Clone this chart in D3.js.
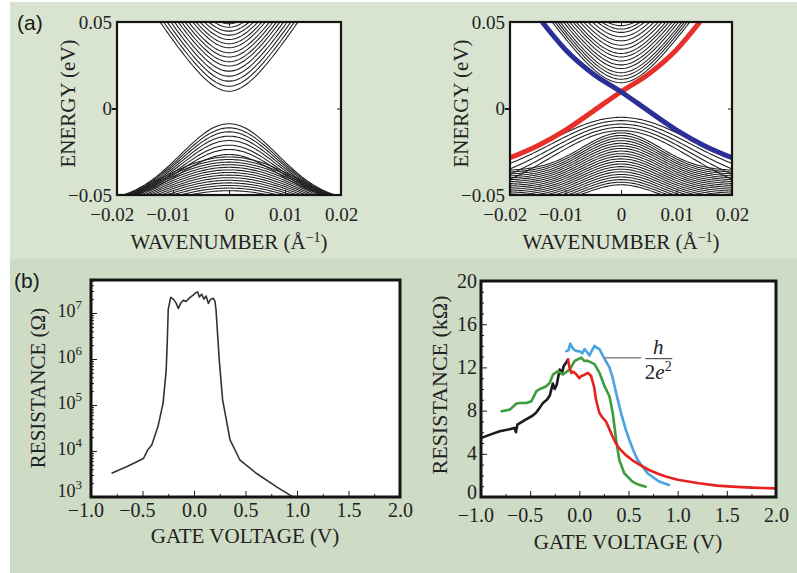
<!DOCTYPE html>
<html>
<head>
<meta charset="utf-8">
<script src="https://cdn.jsdelivr.net/npm/d3@7/dist/d3.min.js"></script>
<style>
  body { margin: 0; background: #fff; }
  svg { display: block; }
  svg text { font-family: "Liberation Serif", "DejaVu Serif", "Noto Serif", serif; }
  svg text.letter { font-family: "Liberation Sans", "DejaVu Sans", sans-serif; }
</style>
</head>
<body>
<div class="viz"></div>
<script>
// ---------- (a) band structures: subband energies at k = 0 (eV)
const trivCond = [0.0100, 0.0129, 0.0158, 0.0187, 0.0216, 0.0245, 0.0270, 0.0297, 0.0322, 0.0351, 0.0374, 0.0399, 0.0424, 0.0447, 0.0470, 0.0490]
const trivVal1 = [-0.0088, -0.0112, -0.0135, -0.0160, -0.0185, -0.0212, -0.0237, -0.0266]
const trivVal2 = [-0.0280, -0.0295, -0.0310, -0.0325, -0.0340, -0.0355, -0.0370, -0.0385, -0.0400, -0.0415, -0.0430, -0.0445, -0.0460, -0.0475, -0.0498]

const topoCond = [0.0149, 0.0169, 0.0188, 0.0207, 0.0231, 0.0252, 0.0275, 0.0298, 0.0318, 0.0343, 0.0366, 0.0391, 0.0415, 0.0440, 0.0459, 0.0479, 0.0498]
const topoVal1 = [-0.0051, -0.0070, -0.0090, -0.0109, -0.0128]
const topoVal2 = [-0.0141, -0.0156, -0.0171, -0.0186, -0.0201, -0.0216, -0.0231, -0.0246, -0.0261, -0.0276, -0.0291, -0.0306, -0.0321, -0.0336, -0.0351, -0.0366, -0.0381, -0.0396, -0.0411, -0.0426, -0.0441]

// edge states (k in 1/Å, E in eV)
const redK = [-0.0200, -0.0150, -0.0100, -0.0050, 0.0000, 0.0050, 0.0100, 0.0142]
const redE = [-0.0285, -0.0215, -0.0125, -0.0015, 0.0097, 0.0200, 0.0340, 0.0500]
const blueK = [-0.0142, -0.0100, -0.0050, 0.0000, 0.0050, 0.0100, 0.0150, 0.0200]
const blueE = [0.0500, 0.0340, 0.0200, 0.0097, -0.0015, -0.0125, -0.0215, -0.0285]

// ---------- (b) left: resistance (Ω) vs gate voltage (V)
const logV = [-0.80, -0.65, -0.49, -0.45, -0.41, -0.35, -0.30, -0.27, -0.26, -0.25, -0.226, -0.201, -0.175, -0.152, -0.129, -0.104, -0.078, -0.055, -0.032, -0.007, 0.016, 0.036, 0.052, 0.074, 0.097, 0.117, 0.139, 0.162, 0.188, 0.204, 0.214, 0.245, 0.278, 0.35, 0.447, 0.608, 0.802, 0.932, 0.964]
const logR = [3300, 4600, 6900, 10500, 13500, 34000, 1.1e5, 5.75e5, 2.2e6, 1.2e7, 2.19e7, 2.0e7, 1.66e7, 1.26e7, 1.62e7, 1.9e7, 1.78e7, 2.0e7, 2.24e7, 2.45e7, 2.75e7, 2.88e7, 2.24e7, 2.57e7, 2.0e7, 2.34e7, 1.62e7, 2.0e7, 2.09e7, 1.78e7, 1.17e7, 9.5e5, 1.29e5, 1.74e4, 6300, 3240, 1660, 1100, 1000]

// ---------- (b) right: resistance (kΩ) vs gate voltage (V)
const blackV = [-1.0, -0.90, -0.81, -0.72, -0.66, -0.645, -0.63, -0.55, -0.48, -0.44, -0.40, -0.37, -0.33, -0.30, -0.27, -0.25, -0.23, -0.20, -0.18, -0.16, -0.13, -0.115]
const blackR = [5.45, 5.8, 6.08, 6.25, 6.4, 6.0, 6.7, 7.15, 7.5, 7.8, 8.3, 8.7, 9.0, 9.4, 10.5, 10.0, 10.4, 11.8, 11.4, 12.1, 12.5, 12.74]
const redV = [-0.115, -0.10, -0.082, -0.06, -0.031, 0.0, 0.019, 0.05, 0.087, 0.12, 0.15, 0.17, 0.203, 0.24, 0.271, 0.30, 0.338, 0.37, 0.406, 0.47, 0.54, 0.62, 0.709, 0.80, 0.878, 1.0, 1.216, 1.4, 1.554, 1.75, 2.0]
const redR = [12.74, 12.0, 11.5, 11.6, 11.35, 11.0, 11.2, 11.3, 11.5, 11.2, 10.2, 9.0, 7.8, 7.3, 7.0, 6.4, 5.6, 5.0, 4.5, 3.9, 3.4, 2.95, 2.5, 2.15, 1.9, 1.6, 1.27, 1.05, 0.96, 0.87, 0.8]
const greenV = [-0.79, -0.706, -0.639, -0.60, -0.537, -0.487, -0.436, -0.40, -0.335, -0.30, -0.267, -0.217, -0.166, -0.098, -0.048, 0.019, 0.05, 0.087, 0.154, 0.205, 0.256, 0.306, 0.34, 0.374, 0.406, 0.457, 0.54, 0.60, 0.675]
const greenR = [7.94, 8.09, 8.65, 8.7, 8.71, 8.87, 9.8, 10.0, 10.26, 10.6, 11.35, 11.66, 11.35, 11.8, 12.59, 12.9, 12.6, 12.6, 12.3, 11.5, 10.26, 9.33, 7.78, 5.3, 3.44, 2.2, 1.43, 1.15, 0.96]
const blueV = [-0.132, -0.11, -0.092, -0.07, -0.048, -0.02, 0.003, 0.03, 0.053, 0.08, 0.103, 0.13, 0.154, 0.18, 0.205, 0.256, 0.306, 0.34, 0.374, 0.424, 0.47, 0.508, 0.55, 0.592, 0.693, 0.81, 0.912]
const blueR = [13.5, 13.6, 14.2, 13.8, 13.6, 13.5, 13.5, 13.3, 13.7, 13.4, 13.1, 13.6, 14.0, 13.8, 13.7, 12.8, 12.0, 11.0, 9.64, 7.78, 6.3, 5.3, 4.3, 3.44, 2.2, 1.43, 1.12]
const quantumR = 12.9            // h/2e² in kΩ
const quantumSpan = [0.24, 0.63]  // gate-voltage extent of the marker line

const svg = d3.select('.viz')
  .append('svg')
    .attr('width', 797)
    .attr('height', 573)

// backgrounds
svg.append('rect').attr('width', 797).attr('height', 573).attr('fill', '#fff')
svg.append('rect').attr('x', 10).attr('y', 2).attr('width', 787).attr('height', 257).attr('fill', '#d9e4d0')
svg.append('rect').attr('x', 10).attr('y', 259).attr('width', 787).attr('height', 314).attr('fill', '#cedbc5')

// panel boxes
const boxTL = { id: 'tl', x0: 117, x1: 341, y0: 22, y1: 195 }
const boxTR = { id: 'tr', x0: 510, x1: 732, y0: 22, y1: 195 }
const boxBL = { id: 'bl', x0: 91, x1: 400, y0: 280, y1: 497 }
const boxBR = { id: 'br', x0: 481, x1: 776, y0: 281, y1: 497 }

function panel(box) {
  svg.append('clipPath').attr('id', 'clip-' + box.id).append('rect')
    .attr('x', box.x0).attr('y', box.y0)
    .attr('width', box.x1 - box.x0).attr('height', box.y1 - box.y0)
  svg.append('rect')
    .attr('x', box.x0).attr('y', box.y0)
    .attr('width', box.x1 - box.x0).attr('height', box.y1 - box.y0)
    .attr('fill', '#fff')
  return svg.append('g').attr('clip-path', `url(#clip-${box.id})`)
}

function frame(box, w) {
  svg.append('rect')
    .attr('x', box.x0).attr('y', box.y0)
    .attr('width', box.x1 - box.x0).attr('height', box.y1 - box.y0)
    .attr('fill', 'none').attr('stroke', '#141414').attr('stroke-width', w)
}

function styleAxis(g, size) {
  g.attr('font-family', null).attr('font-size', size)
  g.select('.domain').remove()
  g.selectAll('line').attr('stroke', '#1a1a1a')
  g.selectAll('text').attr('fill', '#222')
    .attr('dx', d => d < 0 ? '-0.28em' : null)
}

// ---------- (a) band panels
const kSamples = d3.range(-0.021, 0.0211, 0.0004)

const condBand = (e0, d0, v) => k => e0 - d0 + Math.sqrt(d0 * d0 + v * v * k * k)
const valBand = (e0, edge, w) => k => edge + (e0 - edge) * Math.exp(-(k / w) * (k / w))

function bandPanel(box, groups) {
  const x = d3.scaleLinear().domain([-0.02, 0.02]).range([box.x0, box.x1])
  const y = d3.scaleLinear().domain([-0.05, 0.05]).range([box.y1, box.y0])
  const g = panel(box)

  groups.forEach(grp => {
    const edgeScale = grp.type === 'v'
      ? d3.scaleLinear().domain([grp.peaks[0], grp.peaks[grp.peaks.length - 1]]).range(grp.edge)
      : null
    grp.peaks.forEach(e0 => {
      const f = grp.type === 'c' ? condBand(e0, grp.d0, grp.v) : valBand(e0, edgeScale(e0), grp.w)
      g.append('path')
        .datum(kSamples)
        .attr('d', d3.line().x(k => x(k)).y(k => y(f(k))))
        .attr('fill', 'none')
        .attr('stroke', '#1e1e1e')
        .attr('stroke-width', 1.05)
    })
  })

  // axes
  const fmtK = v => v === 0 ? '0' : d3.format('.2f')(v)
  svg.append('g').attr('transform', `translate(0,${box.y1})`)
    .call(d3.axisBottom(x).tickValues([-0.02, -0.01, 0, 0.01, 0.02]).tickSize(-5).tickPadding(13).tickFormat(fmtK))
    .call(g => styleAxis(g, 19))
  svg.append('g').attr('transform', `translate(0,${box.y0})`)
    .call(d3.axisTop(x).tickValues([0]).tickSize(-4).tickFormat(''))
    .call(g => styleAxis(g, 19))
  svg.append('g').attr('transform', `translate(${box.x0},0)`)
    .call(d3.axisLeft(y).tickValues([-0.05, 0, 0.05]).tickSize(0).tickPadding(5).tickFormat(fmtK))
    .call(g => styleAxis(g, 19))
    .call(g => g.selectAll('text').attr('dx', null))
  svg.append('g').attr('transform', `translate(${box.x0},0)`)
    .call(d3.axisLeft(y).tickValues([0]).tickSize(5).tickFormat(''))
    .call(g => styleAxis(g, 19))
    .call(g => g.selectAll('line').attr('stroke-width', 2))
  svg.append('g').attr('transform', `translate(${box.x1},0)`)
    .call(d3.axisRight(y).tickValues([0]).tickSize(-4).tickFormat(''))
    .call(g => styleAxis(g, 19))

  // titles
  const xt = svg.append('text')
    .attr('x', (box.x0 + box.x1) / 2).attr('y', 249)
    .attr('text-anchor', 'middle').attr('font-size', 21).attr('fill', '#222')
    .text('WAVENUMBER (Å')
  xt.append('tspan').attr('dy', -7).attr('font-size', 14).text('−1')
  xt.append('tspan').attr('dy', 7).text(')')

  svg.append('text')
    .attr('transform', `translate(${box.x0 - 42},${(box.y0 + box.y1) / 2 - 5}) rotate(-90)`)
    .attr('text-anchor', 'middle').attr('font-size', 21).attr('fill', '#222')
    .text('ENERGY (eV)')

  return { g, x, y }
}

bandPanel(boxTL, [
  { type: 'c', peaks: trivCond, d0: 0.03, v: 5.14 },
  { type: 'v', peaks: trivVal1, edge: [-0.054, -0.054], w: 0.0122 },
  { type: 'v', peaks: trivVal2, edge: [-0.07, -0.07], w: 0.0205 }
])
frame(boxTL, 2.2)

const tr = bandPanel(boxTR, [
  { type: 'c', peaks: topoCond, d0: 0.03, v: 4.66 },
  { type: 'v', peaks: topoVal1, edge: [-0.038, -0.052], w: 0.0178 },
  { type: 'v', peaks: topoVal2, edge: [-0.036, -0.058], w: 0.0100 }
])

// edge states
const edgeLine = d3.line().x(d => tr.x(d[0])).y(d => tr.y(d[1])).curve(d3.curveMonotoneX)
tr.g.append('path')
  .datum(d3.zip(redK, redE))
  .attr('d', edgeLine)
  .attr('fill', 'none').attr('stroke', '#e8302b').attr('stroke-width', 5)
tr.g.append('path')
  .datum(d3.zip(blueK, blueE))
  .attr('d', edgeLine)
  .attr('fill', 'none').attr('stroke', '#2c2f95').attr('stroke-width', 5)
frame(boxTR, 2.2)

// ---------- (b) left: log resistance
const xBL = d3.scaleLinear().domain([-1, 2]).range([boxBL.x0, boxBL.x1])
const yBL = d3.scaleLog().domain([1e3, Math.pow(10, 3 + 217 / 46)]).range([boxBL.y1, boxBL.y0])
const gBL = panel(boxBL)

gBL.append('path')
  .datum(d3.zip(logV, logR))
  .attr('d', d3.line().x(d => xBL(d[0])).y(d => yBL(d[1])))
  .attr('fill', 'none').attr('stroke', '#333').attr('stroke-width', 1.6)
  .attr('stroke-linejoin', 'round')

const logMinor = []
;[3, 4, 5, 6, 7].forEach(n => d3.range(2, 10).forEach(m => {
  const v = m * Math.pow(10, n)
  if (v < yBL.domain()[1]) logMinor.push(v)
}))

svg.append('g').attr('transform', `translate(${boxBL.x0},0)`)
  .call(d3.axisLeft(yBL).tickValues(logMinor).tickSize(-3).tickFormat(''))
  .call(g => styleAxis(g, 18))
svg.append('g').attr('transform', `translate(${boxBL.x0},0)`)
  .call(d3.axisLeft(yBL).tickValues([1e3, 1e4, 1e5, 1e6, 1e7]).tickSize(-6).tickPadding(9).tickFormat(() => '10'))
  .call(g => styleAxis(g, 18))
  .call(g => g.selectAll('text').attr('dx', null).attr('dy', d => d === 1e3 ? '-0.02em' : '0.2em')
    .each(function (d) {
      const t = d3.select(this)
      t.text('10')
      t.append('tspan').attr('dy', -8).attr('font-size', 13).text(Math.round(Math.log10(d)))
    }))

function voltAxis(x, box, pad) {
  svg.append('g').attr('transform', `translate(0,${box.y1})`)
    .call(d3.axisBottom(x).tickValues(d3.range(-0.75, 2, 0.5)).tickSize(-3).tickFormat(''))
    .call(g => styleAxis(g, 20))
  svg.append('g').attr('transform', `translate(0,${box.y1})`)
    .call(d3.axisBottom(x).tickValues(d3.range(-1, 2.01, 0.5)).tickSize(-6).tickPadding(pad).tickFormat(d3.format('.1f')))
    .call(g => styleAxis(g, 20))
}
voltAxis(xBL, boxBL, 6)

svg.append('text')
  .attr('x', 245).attr('y', 543)
  .attr('text-anchor', 'middle').attr('font-size', 21).attr('fill', '#222')
  .text('GATE VOLTAGE (V)')
svg.append('text')
  .attr('transform', `translate(45,388) rotate(-90)`)
  .attr('text-anchor', 'middle').attr('font-size', 21).attr('fill', '#222')
  .text('RESISTANCE (Ω)')
frame(boxBL, 3)

// ---------- (b) right: linear resistance
const xBR = d3.scaleLinear().domain([-1, 2]).range([boxBR.x0, boxBR.x1])
const yBR = d3.scaleLinear().domain([0, 20]).range([boxBR.y1, boxBR.y0])
const gBR = panel(boxBR)

const curves = [
  { v: blackV, r: blackR, color: '#1b1b1b' },
  { v: greenV, r: greenR, color: '#3d9c3b' },
  { v: blueV, r: blueR, color: '#49a3e2' },
  { v: redV, r: redR, color: '#e4231f' }
]
curves.forEach(c => {
  gBR.append('path')
    .datum(d3.zip(c.v, c.r))
    .attr('d', d3.line().x(d => xBR(d[0])).y(d => yBR(d[1])))
    .attr('fill', 'none').attr('stroke', c.color).attr('stroke-width', 2.6)
    .attr('stroke-linejoin', 'round').attr('stroke-linecap', 'round')
})

// h/2e² marker
gBR.append('line')
  .attr('x1', xBR(quantumSpan[0])).attr('x2', xBR(quantumSpan[1]))
  .attr('y1', yBR(quantumR)).attr('y2', yBR(quantumR))
  .attr('stroke', '#8a8a8a').attr('stroke-width', 1.6)
const fx = xBR(quantumSpan[1]) + 17
const fy = yBR(quantumR) + 1
svg.append('text').attr('x', fx).attr('y', fy - 5)
  .attr('text-anchor', 'middle').attr('font-size', 21).attr('font-style', 'italic').attr('fill', '#222')
  .text('h')
svg.append('line').attr('x1', fx - 13).attr('x2', fx + 14).attr('y1', fy).attr('y2', fy)
  .attr('stroke', '#333').attr('stroke-width', 1)
const den = svg.append('text').attr('x', fx).attr('y', fy + 20)
  .attr('text-anchor', 'middle').attr('font-size', 21).attr('fill', '#222')
den.append('tspan').text('2')
den.append('tspan').attr('font-style', 'italic').text('e')
den.append('tspan').attr('dy', -8).attr('font-size', 14).text('2')

svg.append('g').attr('transform', `translate(${boxBR.x0},0)`)
  .call(d3.axisLeft(yBR).tickValues(d3.range(1, 20).filter(v => v % 4 !== 0)).tickSize(-3).tickFormat(''))
  .call(g => styleAxis(g, 20))
svg.append('g').attr('transform', `translate(${boxBR.x0},0)`)
  .call(d3.axisLeft(yBR).tickValues(d3.range(0, 21, 4)).tickSize(-6).tickPadding(4))
  .call(g => styleAxis(g, 20))
  .call(g => g.selectAll('text').attr('dy', d => d === 0 ? '0.08em' : '0.3em'))
voltAxis(xBR, boxBR, 11)

svg.append('text')
  .attr('x', 628).attr('y', 549)
  .attr('text-anchor', 'middle').attr('font-size', 21).attr('fill', '#222')
  .text('GATE VOLTAGE (V)')
svg.append('text')
  .attr('transform', `translate(447,385) rotate(-90)`)
  .attr('text-anchor', 'middle').attr('font-size', 22).attr('fill', '#222')
  .text('RESISTANCE (kΩ)')
frame(boxBR, 3)

// panel letters
svg.append('text').attr('class', 'letter').attr('x', 17).attr('y', 30)
  .attr('font-size', 21).attr('fill', '#1a1a1a')
  .text('(a)')
svg.append('text').attr('class', 'letter').attr('x', 14).attr('y', 288)
  .attr('font-size', 21).attr('fill', '#1a1a1a')
  .text('(b)')
</script>
</body>
</html>
